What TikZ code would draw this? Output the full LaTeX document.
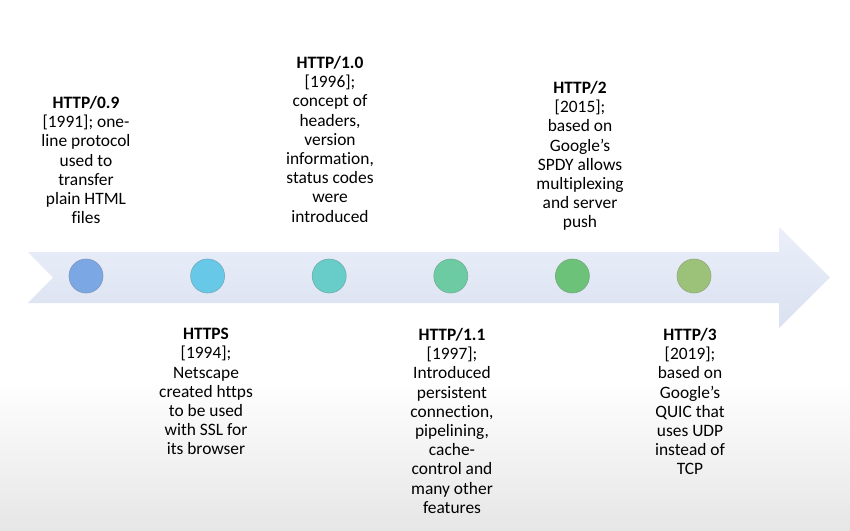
\documentclass[tikz,border=0pt]{standalone}
\usepackage{fontspec}
\setmainfont{Carlito}[Ligatures=NoCommon]
\usetikzlibrary{positioning}
\definecolor{dotone}{RGB}{123,167,228}
\definecolor{dottwo}{RGB}{104,200,232}
\definecolor{dotthree}{RGB}{104,204,200}
\definecolor{dotfour}{RGB}{108,203,162}
\definecolor{dotfive}{RGB}{108,194,120}
\definecolor{dotsix}{RGB}{156,194,122}
\definecolor{arrowtop}{RGB}{234,239,249}
\definecolor{arrowbottom}{RGB}{218,225,240}
\definecolor{mygray}{RGB}{230,230,230}

\begin{document}
\begin{tikzpicture}[x=1pt, y=-1pt]

\useasboundingbox (0,0) rectangle (850,530);
\fill[white] (0,0) rectangle (850,530);
\shade[top color=white, bottom color=mygray] (0,380) rectangle (850,530);

%----------ARROW-------------%
\shade[top color=arrowtop, bottom color=arrowbottom]
(28,252) -- (779,252) -- (779,227) -- (830,277.5) -- (779,328) -- (779,303) -- (28,303) -- (53,277.5) -- cycle;

\foreach \a/\c in {1/dotone,2/dottwo,3/dotthree,4/dotfour,5/dotfive,6/dotsix}{
	\draw ({86+121.6*(\a-1)},276) node [circle, draw=\c!60!gray, line width=0.6pt, fill=\c, minimum size=34pt, inner sep=0pt] (\a) {};
};

%----------LABELS-------------%
\tikzset{label text/.style={align=center, anchor=north, inner sep=0pt, font=\fontsize{17.4}{19.2}\selectfont}}

\node[label text] (h1) at (86,96) {\textbf{HTTP/0.9}\\{[1991]; one-}\\line protocol\\used to\\transfer\\plain HTML\\files};
\node[label text] (h2) at (206,328) {\textbf{HTTPS}\\{[1994];}\\Netscape\\created https\\to be used\\with SSL for\\its browser};
\node[label text] (h3) at (330,56) {\textbf{HTTP/1.0}\\{[1996];}\\concept of\\headers,\\version\\information,\\status codes\\were\\introduced};
\node[label text] (h4) at (452,328) {\textbf{HTTP/1.1}\\{[1997];}\\Introduced\\persistent\\connection,\\pipelining,\\cache-\\control and\\many other\\features};
\node[label text] (h5) at (580,81) {\textbf{HTTP/2}\\{[2015];}\\based on\\Google’s\\SPDY allows\\multiplexing\\and server\\push};
\node[label text] (h6) at (690,328) {\textbf{HTTP/3}\\{[2019];}\\based on\\Google’s\\QUIC that\\uses UDP\\instead of\\TCP};

\end{tikzpicture}
\end{document}
